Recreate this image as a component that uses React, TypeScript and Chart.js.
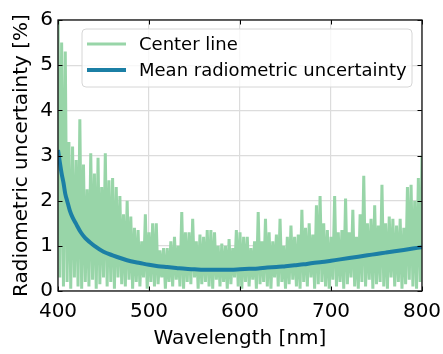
import { useEffect, useRef } from "react";
import { Chart, registerables } from "chart.js";

Chart.register(...registerables);

const centerVals = [
  6.2, 0.3, 5.5, 0.1, 5.3, 0.2, 3.3, 0.05, 3.2, 0.3,
  2.9, 0.1, 3.8, 0.05, 2.8, 0.2, 2.25, 0.1, 3.05, 0.25,
  2.6, 0.05, 2.95, 0.15, 2.3, 0.3, 3.05, 0.1, 2.45, 0.2,
  2.5, 0.05, 2.3, 0.3, 2.1, 0.15, 1.7, 0.1, 2.0, 0.25,
  1.65, 0.05, 1.4, 0.2, 1.35, 0.1, 1.1, 0.3, 1.7, 0.05,
  1.3, 0.2, 1.5, 0.1, 1.5, 0.15, 0.9, 0.3, 0.95, 0.05,
  0.95, 0.2, 1.1, 0.1, 1.2, 0.25, 1.0, 0.1, 1.75, 0.05,
  1.3, 0.2, 1.3, 0.15, 1.6, 0.3, 1.1, 0.05, 1.25, 0.15,
  1.2, 0.2, 1.35, 0.1, 1.35, 0.05, 1.3, 0.25, 1.0, 0.1,
  1.05, 0.2, 1.0, 0.05, 1.15, 0.15, 0.95, 0.3, 1.35, 0.1,
  1.3, 0.05, 1.2, 0.2, 1.2, 0.1, 0.95, 0.25, 1.1, 0.05,
  1.75, 0.15, 1.1, 0.2, 1.6, 0.1, 1.3, 0.05, 1.1, 0.3,
  1.25, 0.1, 1.6, 0.2, 1.0, 0.05, 1.2, 0.15, 1.45, 0.25,
  1.2, 0.1, 1.25, 0.05, 1.8, 0.2, 1.4, 0.1, 1.5, 0.3,
  1.25, 0.05, 1.9, 0.15, 2.1, 0.2, 1.5, 0.1, 1.35, 0.05,
  1.2, 0.25, 2.1, 0.1, 1.3, 0.2, 1.35, 0.05, 2.05, 0.15,
  1.3, 0.3, 1.8, 0.1, 1.2, 0.05, 1.7, 0.2, 2.55, 0.1,
  1.5, 0.25, 1.6, 0.05, 1.9, 0.15, 1.45, 0.2, 2.35, 0.1,
  1.5, 0.05, 1.65, 0.3, 1.6, 0.1, 1.45, 0.2, 1.6, 0.05,
  1.4, 0.15, 2.3, 0.25, 2.35, 0.1, 2.0, 0.05, 2.5, 0.2,
  3.0,
];
const centerStart = 400;
const centerStep = 2;

// Mean radiometric uncertainty
const meanWl = [
  400, 402, 404, 406, 408, 410, 413, 416, 420, 425, 430, 435, 440, 450, 460, 470,
  480, 490, 500, 510, 520, 530, 540, 550, 560, 570, 580, 590, 600, 610, 620, 630,
  640, 650, 660, 670, 680, 690, 700, 710, 720, 730, 740, 750, 760, 770, 780, 790, 800,
];
const meanVals = [
  3.12, 2.85, 2.6, 2.4, 2.15, 2.0, 1.78, 1.63, 1.48, 1.3, 1.17, 1.08, 1.0, 0.87, 0.79, 0.72,
  0.66, 0.62, 0.58, 0.55, 0.53, 0.51, 0.49, 0.48, 0.47, 0.47, 0.47, 0.47, 0.48, 0.49, 0.5, 0.52,
  0.53, 0.55, 0.57, 0.59, 0.62, 0.64, 0.67, 0.7, 0.73, 0.76, 0.79, 0.82, 0.85, 0.88, 0.91, 0.94, 0.97,
];

const xTicks = [400, 500, 600, 700, 800];
const yTicks = [0, 1, 2, 3, 4, 5, 6];
const seriesLabels = ["Center line", "Mean radiometric uncertainty"];

const GREEN = "#98d5a8";
const BLUE = "#1b7fa5";
const FONT = "'DejaVu Sans', sans-serif";

const framePlugin = {
  id: "frameAndLegend",
  afterDraw(chart: any) {
    const { ctx, chartArea } = chart;
    const { left, right, top, bottom } = chartArea;
    const xs = chart.scales.x;
    const ys = chart.scales.y;
    ctx.save();
    // inward ticks
    ctx.strokeStyle = "#000";
    ctx.lineWidth = 1;
    const tl = 4.5;
    ctx.beginPath();
    xTicks.forEach((v) => {
      const px = Math.round(xs.getPixelForValue(v)) + 0.5;
      ctx.moveTo(px, bottom);
      ctx.lineTo(px, bottom - tl);
      ctx.moveTo(px, top);
      ctx.lineTo(px, top + tl);
    });
    yTicks.forEach((v) => {
      const py = Math.round(ys.getPixelForValue(v)) + 0.5;
      ctx.moveTo(left, py);
      ctx.lineTo(left + tl, py);
      ctx.moveTo(right, py);
      ctx.lineTo(right - tl, py);
    });
    ctx.stroke();
    // frame
    ctx.lineWidth = 1.3;
    ctx.strokeStyle = "#111";
    ctx.strokeRect(left, top, right - left, bottom - top);

    // legend
    const bx = 82, by = 29, bw = 330, bh = 58, r = 4;
    ctx.beginPath();
    ctx.moveTo(bx + r, by);
    ctx.lineTo(bx + bw - r, by);
    ctx.quadraticCurveTo(bx + bw, by, bx + bw, by + r);
    ctx.lineTo(bx + bw, by + bh - r);
    ctx.quadraticCurveTo(bx + bw, by + bh, bx + bw - r, by + bh);
    ctx.lineTo(bx + r, by + bh);
    ctx.quadraticCurveTo(bx, by + bh, bx, by + bh - r);
    ctx.lineTo(bx, by + r);
    ctx.quadraticCurveTo(bx, by, bx + r, by);
    ctx.closePath();
    ctx.fillStyle = "rgba(255,255,255,0.8)";
    ctx.fill();
    ctx.strokeStyle = "#d6d6d6";
    ctx.lineWidth = 1;
    ctx.stroke();

    const rows = [44, 70];
    chart.data.datasets.forEach((ds: any, i: number) => {
      const y = rows[i];
      ctx.strokeStyle = ds.borderColor;
      ctx.lineWidth = ds.borderWidth;
      ctx.beginPath();
      ctx.moveTo(87, y);
      ctx.lineTo(126, y);
      ctx.stroke();
      ctx.fillStyle = "#000";
      ctx.font = `18px ${FONT}`;
      ctx.textBaseline = "middle";
      ctx.textAlign = "left";
      ctx.fillText(ds.label, 139, y + 1);
    });
    ctx.restore();
  },
};

export default function App() {
  const ref = useRef<HTMLCanvasElement | null>(null);
  useEffect(() => {
    document.body.style.margin = "0";
    if (!ref.current) return;
    const centerData = centerVals.map((v, i) => ({ x: centerStart + centerStep * i, y: v }));
    const meanData = meanWl.map((x, i) => ({ x, y: meanVals[i] }));
    const chart = new Chart(ref.current, {
      type: "line",
      data: {
        datasets: [
          {
            label: seriesLabels[0],
            data: centerData,
            borderColor: GREEN,
            backgroundColor: GREEN,
            borderWidth: 3,
            pointRadius: 0,
            tension: 0,
            order: 2,
          },
          {
            label: seriesLabels[1],
            data: meanData,
            borderColor: BLUE,
            backgroundColor: BLUE,
            borderWidth: 4,
            pointRadius: 0,
            cubicInterpolationMode: "monotone",
            order: 1,
          },
        ],
      },
      options: {
        responsive: false,
        animation: false,
        layout: { padding: { top: 20, right: 21, left: 0, bottom: 0 } },
        plugins: { legend: { display: false }, tooltip: { enabled: false } },
        scales: {
          x: {
            type: "linear",
            min: 400,
            max: 800,
            afterBuildTicks: (s: any) => {
              s.ticks = xTicks.map((v) => ({ value: v }));
            },
            afterFit: (s: any) => {
              s.height = 63;
              s.paddingLeft = 0;
              s.paddingRight = 0;
            },
            ticks: { color: "#000", font: { family: FONT, size: 20 }, padding: 9, maxRotation: 0 },
            grid: { color: "#dcdcdc", lineWidth: 1.2, drawTicks: false },
            border: { display: false },
            title: {
              display: true,
              text: "Wavelength [nm]",
              color: "#000",
              font: { family: FONT, size: 20 },
              padding: { top: 0, bottom: 3 },
            },
          },
          y: {
            type: "linear",
            min: 0,
            max: 6,
            afterBuildTicks: (s: any) => {
              s.ticks = yTicks.map((v) => ({ value: v }));
            },
            afterFit: (s: any) => {
              s.width = 58;
              s.paddingTop = 0;
              s.paddingBottom = 0;
            },
            ticks: { color: "#000", font: { family: FONT, size: 20 }, padding: 5 },
            grid: { color: "#dcdcdc", lineWidth: 1.2, drawTicks: false },
            border: { display: false },
            title: {
              display: true,
              text: "Radiometric uncertainty [%]",
              color: "#000",
              font: { family: FONT, size: 20 },
              padding: { top: 10, bottom: 0 },
            },
          },
        },
      },
      plugins: [framePlugin],
    });
    return () => chart.destroy();
  }, []);
  return (
    <div style={{ position: "fixed", left: 0, top: 0, width: 443, height: 354 }}>
      <canvas ref={ref} width={443} height={354} style={{ display: "block" }} />
    </div>
  );
}
